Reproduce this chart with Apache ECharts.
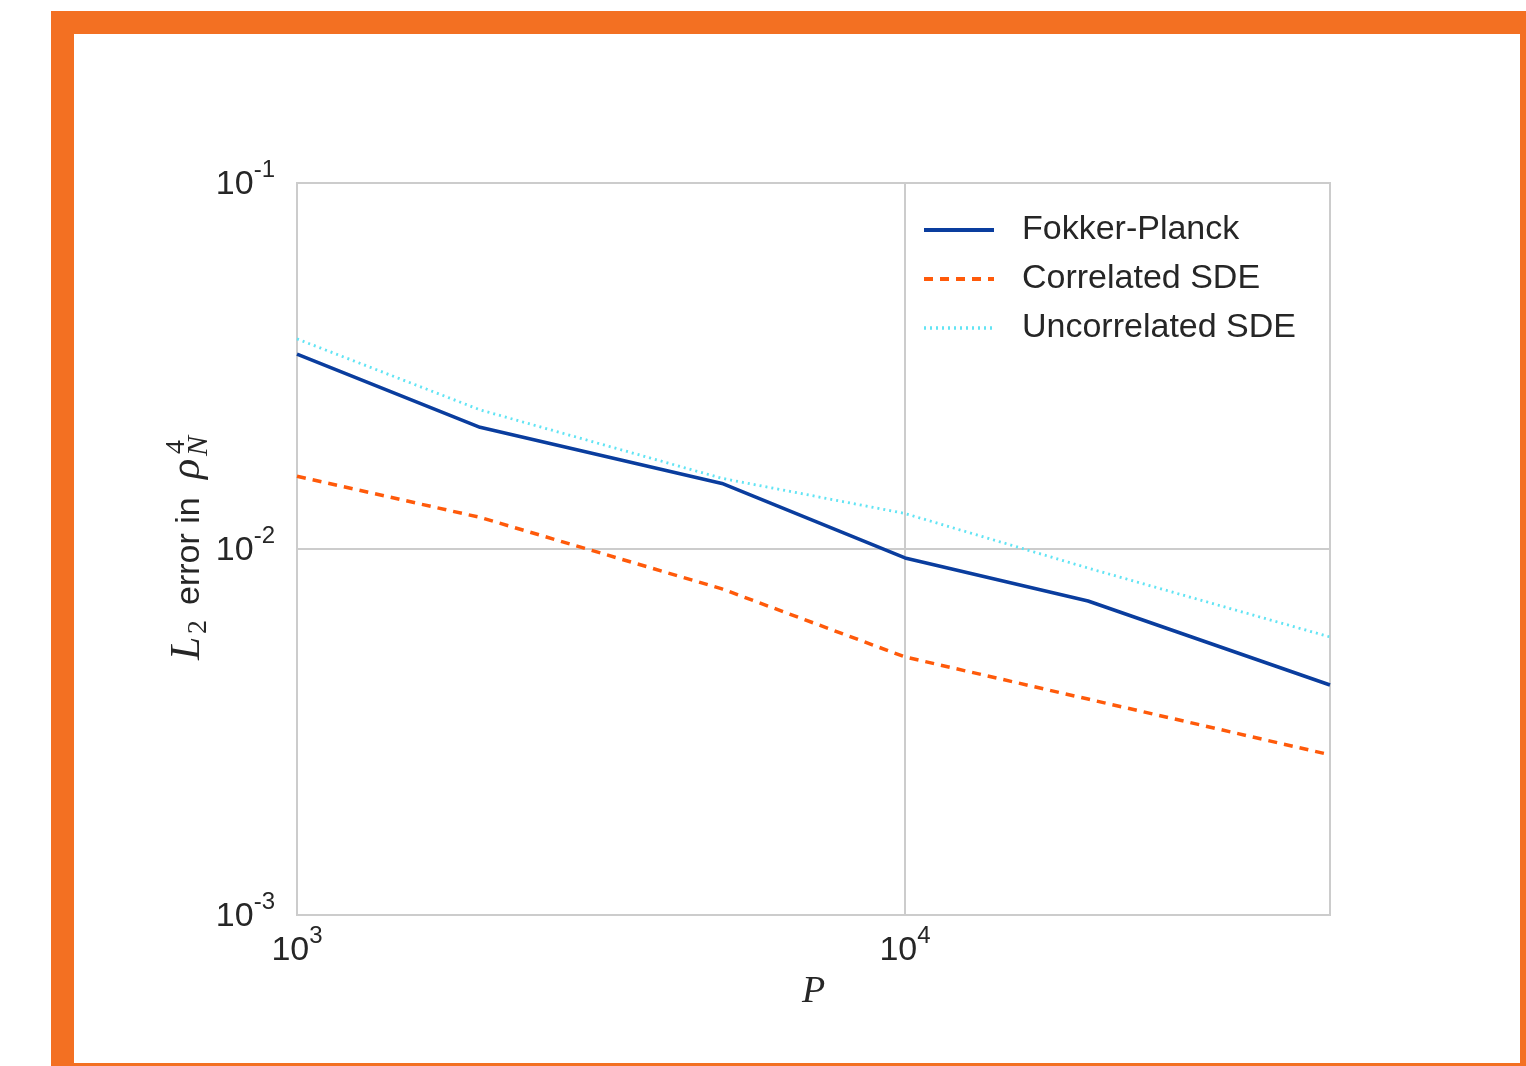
<!DOCTYPE html>
<html>
<head>
<meta charset="utf-8">
<script src="https://cdn.jsdelivr.net/npm/echarts@6/dist/echarts.min.js"></script>
<style>
html,body{margin:0;padding:0;background:#fff;}
#chart{width:1526px;height:1066px;}
</style>
</head>
<body>
<div id="chart"></div>
<script>
// ---- data ----
var P = [1000, 2000, 5000, 10000, 20000, 50000];
var fokkerPlanck = [0.0341, 0.0215, 0.0151, 0.00945, 0.00721, 0.00425];
var correlatedSDE = [0.0158, 0.0122, 0.00778, 0.00507, 0.00389, 0.00274];
var uncorrelatedSDE = [0.0375, 0.0240, 0.0156, 0.0125, 0.00887, 0.00575];
var seriesNames = ['Fokker-Planck', 'Correlated SDE', 'Uncorrelated SDE'];
var xTickLabels = {3: '3', 4: '4'};
var yTickLabels = {'-1': '-1', '-2': '-2', '-3': '-3'};

function pairs(ys) { return P.map(function (p, i) { return [p, ys[i]]; }); }

var textColor = '#262626';
var sans = "'Liberation Sans', Arial, Helvetica, sans-serif";
var serif = "'Liberation Serif', 'DejaVu Serif', serif";
var gridColor = '#cccccc';
var colors = ['#0a3d9e', '#ff5a0a', '#62e4f4'];
var widths = [3.5, 3.5, 2.8];
var dashes = ['solid', [9, 7], [2, 4]];

function powLabel(map) {
  return function (v) {
    var e = Math.log10(v);
    var r = Math.round(e);
    if (Math.abs(e - r) > 1e-6) return '';
    var s = map[String(r)];
    if (s === undefined) return '';
    return '{n|10}{e|' + s + '}';
  };
}
var richPow = {
  n: {fontSize: 34, fontFamily: sans, color: textColor, lineHeight: 44, verticalAlign: 'bottom'},
  e: {fontSize: 24, fontFamily: sans, color: textColor, lineHeight: 24, verticalAlign: 'top'}
};

var chart = echarts.init(document.getElementById('chart'), null, {renderer: 'canvas'});
chart.setOption({
  backgroundColor: '#ffffff',
  animation: false,
  graphic: [
    {type: 'rect', z: -10, silent: true, shape: {x: 51, y: 11, width: 1475, height: 1055}, style: {fill: '#F37022'}},
    {type: 'rect', z: -9, silent: true, shape: {x: 74, y: 34, width: 1446, height: 1029}, style: {fill: '#ffffff'}},
    {
      type: 'group', x: 200, y: 660, rotation: Math.PI / 2, silent: true,
      children: [
        {type: 'text', x: 0, y: 9, style: {text: 'L', font: 'italic 42px ' + serif, fill: textColor, align: 'left', verticalAlign: 'bottom'}},
        {type: 'text', x: 26, y: 13, style: {text: '2', font: '28px ' + serif, fill: textColor, align: 'left', verticalAlign: 'bottom'}},
        {type: 'text', x: 55, y: 7, style: {text: 'error in', font: '34px ' + sans, fill: textColor, align: 'left', verticalAlign: 'bottom'}},
        {type: 'text', x: 181, y: 9, style: {text: 'ρ', font: 'italic 42px ' + serif, fill: textColor, align: 'left', verticalAlign: 'bottom'}},
        {type: 'text', x: 206, y: -9, style: {text: '4', font: '28px ' + serif, fill: textColor, align: 'left', verticalAlign: 'bottom'}},
        {type: 'text', x: 204, y: 14, style: {text: 'N', font: 'italic 30px ' + serif, fill: textColor, align: 'left', verticalAlign: 'bottom'}}
      ]
    }
  ],
  grid: {left: 297, top: 183, right: 196, bottom: 151, show: true, borderColor: gridColor, borderWidth: 2, backgroundColor: 'transparent', containLabel: false},
  legend: {
    orient: 'vertical', left: 922, top: 213, padding: 0,
    itemWidth: 70, itemHeight: 14, itemGap: 15,
    data: seriesNames.map(function (n, i) {
      return {name: n, lineStyle: {width: widths[i] + 0.5, color: colors[i], type: dashes[i]}};
    }),
    itemStyle: {opacity: 0},
    textStyle: {fontSize: 34, lineHeight: 34, fontFamily: sans, color: textColor, padding: [0, 0, 0, 23]}
  },
  xAxis: {
    type: 'log', logBase: 10, min: 1000, max: 50000,
    name: 'P', nameLocation: 'middle', nameGap: 56,
    nameTextStyle: {fontSize: 38, fontStyle: 'italic', fontFamily: serif, color: textColor},
    axisLine: {show: false}, axisTick: {show: false},
    axisLabel: {formatter: powLabel(xTickLabels), rich: richPow, margin: 9, showMaxLabel: false, hideOverlap: false},
    splitLine: {show: true, lineStyle: {color: gridColor, width: 2}},
    minorSplitLine: {show: false}
  },
  yAxis: {
    type: 'log', logBase: 10, min: 0.001, max: 0.1,
    axisLine: {show: false}, axisTick: {show: false},
    axisLabel: {formatter: powLabel(yTickLabels), rich: richPow, margin: 22, padding: [0, 0, 6, 0]},
    splitLine: {show: true, lineStyle: {color: gridColor, width: 2}}
  },
  series: seriesNames.map(function (n, i) {
    var vals = [fokkerPlanck, correlatedSDE, uncorrelatedSDE][i];
    return {
      name: n, type: 'line', data: pairs(vals), showSymbol: false, symbol: 'none', z: 3 - i,
      lineStyle: {color: colors[i], width: widths[i], type: dashes[i]}, itemStyle: {color: colors[i]}
    };
  })
});
</script>
</body>
</html>
